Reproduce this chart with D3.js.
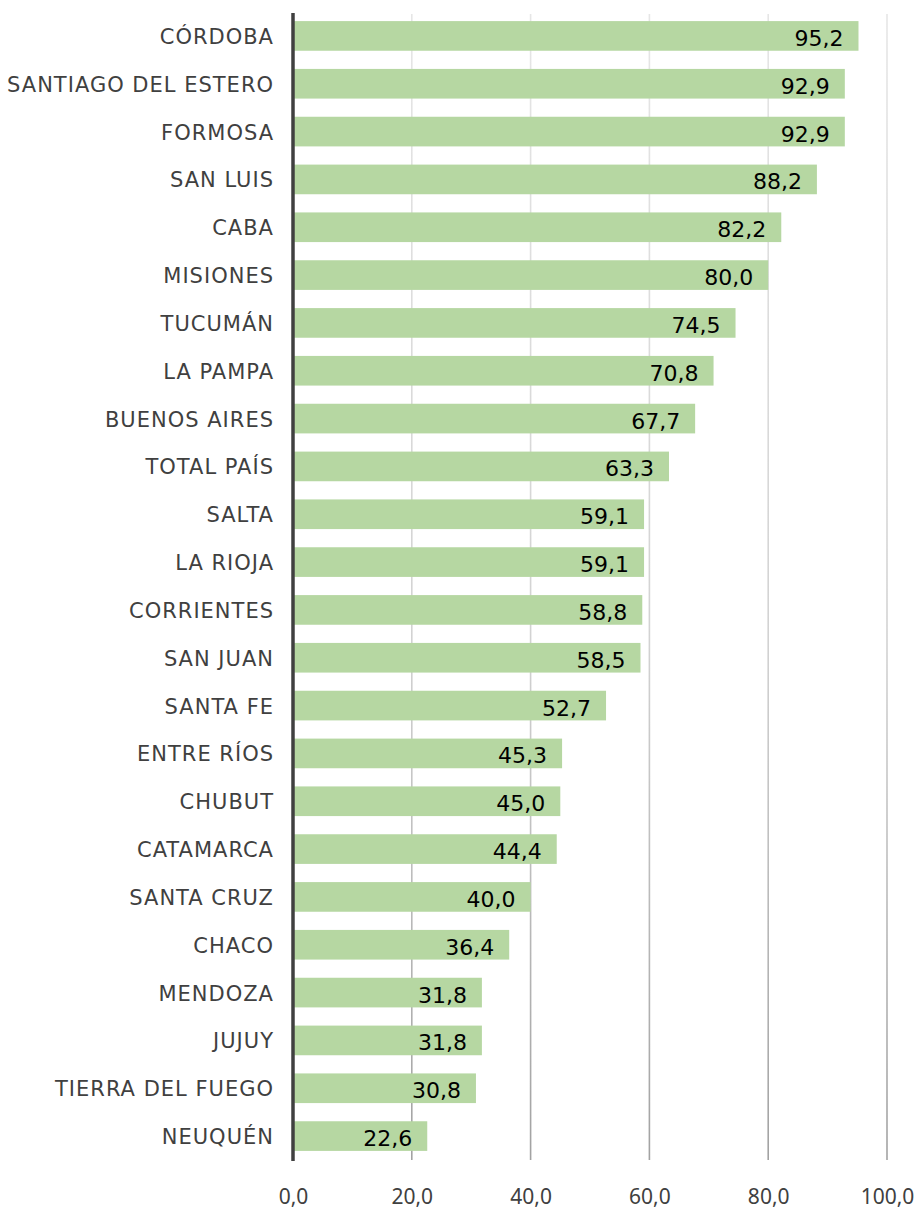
<!DOCTYPE html>
<html>
<head>
<meta charset="utf-8">
<script src="https://cdn.jsdelivr.net/npm/d3@7"></script>
<style>
  html, body { margin: 0; padding: 0; background: #ffffff; }
  svg { display: block; }
</style>
</head>
<body>
<svg id="chart" width="918" height="1211"></svg>
<script>
const categories = [
  "CÓRDOBA", "SANTIAGO DEL ESTERO", "FORMOSA", "SAN LUIS", "CABA", "MISIONES",
  "TUCUMÁN", "LA PAMPA", "BUENOS AIRES", "TOTAL PAÍS", "SALTA", "LA RIOJA",
  "CORRIENTES", "SAN JUAN", "SANTA FE", "ENTRE RÍOS", "CHUBUT", "CATAMARCA",
  "SANTA CRUZ", "CHACO", "MENDOZA", "JUJUY", "TIERRA DEL FUEGO", "NEUQUÉN"
];
const values = [
  95.2, 92.9, 92.9, 88.2, 82.2, 80.0,
  74.5, 70.8, 67.7, 63.3, 59.1, 59.1,
  58.8, 58.5, 52.7, 45.3, 45.0, 44.4,
  40.0, 36.4, 31.8, 31.8, 30.8, 22.6
];
const tickValues = [0, 20, 40, 60, 80, 100];

const data = categories.map((c, i) => ({ cat: c, val: values[i] }));
const fmt = v => d3.format(".1f")(v).replace(".", ",");

const svg = d3.select("#chart");
const x = d3.scaleLinear().domain([0, 100]).range([293, 887]);
const y = d3.scaleBand().domain(categories).range([12, 1160]).paddingInner(0.38).paddingOuter(0.19);

// gradient for gridlines
const defs = svg.append("defs");
const grad = defs.append("linearGradient")
  .attr("id", "gridGrad").attr("gradientUnits", "userSpaceOnUse")
  .attr("x1", 0).attr("y1", 14).attr("x2", 0).attr("y2", 1160);
grad.append("stop").attr("offset", "0%").attr("stop-color", "#e6e6e6");
grad.append("stop").attr("offset", "55%").attr("stop-color", "#d2d2d2");
grad.append("stop").attr("offset", "100%").attr("stop-color", "#a2a2a2");

// gridlines
svg.append("g").selectAll("line")
  .data(tickValues.filter(d => d > 0))
  .join("line")
  .attr("x1", d => x(d)).attr("x2", d => x(d))
  .attr("y1", 14).attr("y2", 1160)
  .attr("stroke", "url(#gridGrad)")
  .attr("stroke-width", 1.6);

// bars
svg.append("g").selectAll("rect")
  .data(data)
  .join("rect")
  .attr("x", x(0))
  .attr("y", d => y(d.cat))
  .attr("width", d => x(d.val) - x(0))
  .attr("height", y.bandwidth())
  .attr("fill", "#b6d7a2");

// value labels
svg.append("g").selectAll("text")
  .data(data)
  .join("text")
  .attr("x", d => x(d.val) - 15)
  .attr("y", d => y(d.cat) + y.bandwidth() / 2 + 10)
  .attr("text-anchor", "end")
  .attr("font-family", "DejaVu Sans, Verdana, sans-serif")
  .attr("font-size", 22)
  .attr("fill", "#000000")
  .text(d => fmt(d.val));

// category labels
svg.append("g").selectAll("text")
  .data(data)
  .join("text")
  .attr("x", 274)
  .attr("y", d => y(d.cat) + y.bandwidth() / 2 + 8)
  .attr("text-anchor", "end")
  .attr("font-family", "DejaVu Sans, Verdana, sans-serif")
  .attr("font-size", 21)
  .attr("letter-spacing", 1)
  .attr("fill", "#404040")
  .text(d => d.cat);

// x axis tick labels
const xAxis = d3.axisBottom(x).tickValues(tickValues).tickSize(0).tickFormat(fmt);
const gx = svg.append("g").attr("transform", "translate(0,1160)").call(xAxis);
gx.select(".domain").remove();
gx.selectAll("text")
  .attr("y", 44).attr("dy", 0)
  .attr("font-family", "Noto Sans, Open Sans, sans-serif")
  .attr("font-size", 21)
  .attr("fill", "#404040");

// vertical axis line
svg.append("line")
  .attr("x1", x(0)).attr("x2", x(0))
  .attr("y1", 13).attr("y2", 1161)
  .attr("stroke", "#404040")
  .attr("stroke-width", 3.5);
</script>
</body>
</html>
